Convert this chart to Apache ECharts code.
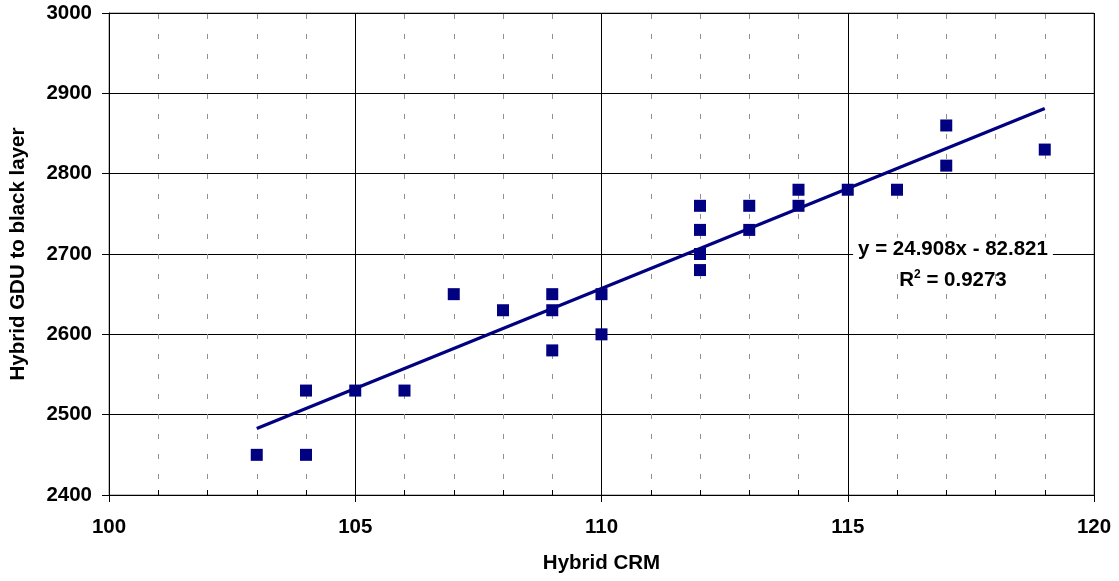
<!DOCTYPE html>
<html>
<head>
<meta charset="utf-8">
<script src="https://cdn.jsdelivr.net/npm/echarts@6/dist/echarts.min.js"></script>
<style>html,body{margin:0;padding:0;background:#fff}#c{width:1119px;height:581px}</style>
</head>
<body>
<div id="c"></div>
<script>
var crm = [103,104,104,105,106,107,108,109,109,109,110,110,112,112,112,112,113,113,114,114,115,116,117,117,119];
var gdu = [2450,2530,2450,2530,2530,2650,2630,2650,2630,2580,2650,2600,2760,2730,2700,2680,2760,2730,2780,2760,2780,2780,2860,2810,2830];
var trendX = [103,119];
var trendY = [2482.7,2881.2];
var xTicks = [100,105,110,115,120];
var yTicks = [2400,2500,2600,2700,2800,2900,3000];
var eqText = 'y = 24.908x - 82.821';
var r2Text = 'R{s|2} = 0.9273';

var chart = echarts.init(document.getElementById('c'));
var font = 'Arial, "Liberation Sans", sans-serif';
var fs = 20.5;
chart.setOption({
  animation:false,
  backgroundColor:'#fff',
  grid:{left:107,top:13,right:25,bottom:86,show:true,borderColor:'#808080',borderWidth:1,backgroundColor:'transparent'},
  xAxis:{
    type:'value',min:xTicks[0],max:xTicks[xTicks.length-1],interval:5,
    name:'Hybrid CRM',nameLocation:'middle',nameGap:58,
    nameTextStyle:{fontFamily:font,fontWeight:'bold',fontSize:fs,color:'#000'},
    axisLine:{lineStyle:{color:'#000',width:1}},
    axisTick:{show:true,length:7,lineStyle:{color:'#000'}},
    minorTick:{show:true,splitNumber:5,length:-5,lineStyle:{color:'#000'}},
    axisLabel:{fontFamily:font,fontWeight:'bold',fontSize:fs,color:'#000',margin:22},
    splitLine:{show:true,lineStyle:{color:'#000',width:1}},
    minorSplitLine:{show:true,lineStyle:{color:'#909090',width:1,type:[5,15],dashOffset:-1}}
  },
  yAxis:{
    type:'value',min:yTicks[0],max:yTicks[yTicks.length-1],interval:100,
    name:'Hybrid GDU to black layer',nameLocation:'middle',nameGap:80,nameRotate:90,
    nameTextStyle:{fontFamily:font,fontWeight:'bold',fontSize:fs,color:'#000'},
    axisLine:{show:true,lineStyle:{color:'#000',width:1}},
    axisTick:{show:true,length:7,lineStyle:{color:'#000'}},
    axisLabel:{fontFamily:font,fontWeight:'bold',fontSize:fs,color:'#000',margin:17,
      formatter:function(v){return String(v);}},
    splitLine:{show:true,lineStyle:{color:'#000',width:1}}
  },
  series:[
    {type:'line',data:trendX.map(function(x,i){return [x,trendY[i]];}),
     showSymbol:false,symbol:'none',lineStyle:{color:'#000080',width:3.2},z:2},
    {type:'scatter',data:crm.map(function(x,i){return [x,gdu[i]];}),
     symbol:'rect',symbolSize:12,itemStyle:{color:'#000080',opacity:1},z:3}
  ],
  graphic:[
    {type:'text',x:953,y:249,z:10,
     style:{text:eqText,fontFamily:font,fontWeight:'bold',fontSize:fs,fill:'#000',
       align:'center',verticalAlign:'middle',
       backgroundColor:'#fff',padding:[1,5,1,5]}},
    {type:'text',x:953,y:280,z:10,
     style:{text:r2Text,fontFamily:font,fontWeight:'bold',fontSize:fs,fill:'#000',
       align:'center',verticalAlign:'middle',
       rich:{s:{fontFamily:font,fontWeight:'bold',fontSize:12,verticalAlign:'top',padding:[0,0,10,0]}}}}
  ]
});
</script>
</body>
</html>
